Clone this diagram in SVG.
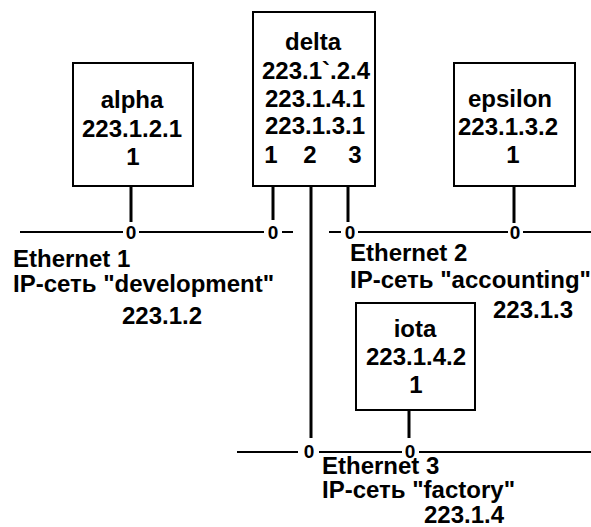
<svg xmlns="http://www.w3.org/2000/svg" width="591" height="527" viewBox="0 0 591 527">
<style>
  .box{fill:#fff;stroke:#000;stroke-width:2}
  .t{font-family:"Liberation Sans",Arial,sans-serif;font-weight:bold;font-size:24px;fill:#000}
  .c{text-anchor:middle}
  .z{font-family:"Liberation Sans",Arial,sans-serif;font-weight:bold;font-size:19px;fill:#000;text-anchor:middle}
  .stub{stroke:#000;stroke-width:3;fill:none}
  .net{stroke:#000;stroke-width:2;fill:none}
</style>
<rect width="591" height="527" fill="#fff"/>
<g id="connectors">
  <line class="stub" x1="131" y1="186" x2="131" y2="222"/>
  <line class="stub" x1="273" y1="186" x2="273" y2="220"/>
  <line class="stub" x1="311" y1="186" x2="311" y2="438"/>
  <line class="stub" x1="348" y1="186" x2="348" y2="222"/>
  <line class="stub" x1="514" y1="186" x2="514" y2="223"/>
  <line class="stub" x1="409" y1="410" x2="409" y2="438"/>
</g>
<g id="ethernet1">
  <path class="net" d="M20 232H123M139 232H264M282 232H293"/>
  <text class="z" x="131" y="239">0</text>
  <text class="z" x="273" y="239">0</text>
  <text class="t" x="13" y="267">Ethernet 1</text>
  <text class="t" x="13" y="292">IP-сеть "development"</text>
  <text class="t" x="122" y="324">223.1.2</text>
</g>
<g id="ethernet2">
  <path class="net" d="M329 232H341M358 232H508M523 232H591"/>
  <text class="z" x="350" y="239">0</text>
  <text class="z" x="515" y="239">0</text>
  <text class="t" x="350" y="261">Ethernet 2</text>
  <text class="t" x="350" y="288">IP-сеть "accounting"</text>
  <text class="t" x="493" y="318">223.1.3</text>
</g>
<g id="ethernet3">
  <path class="net" d="M237 452H298M319 452H402M419 452H591"/>
  <text class="z" x="309" y="458">0</text>
  <text class="z" x="410" y="458">0</text>
  <text class="t" x="322" y="474">Ethernet 3</text>
  <text class="t" x="322" y="498">IP-сеть "factory"</text>
  <text class="t" x="424" y="523">223.1.4</text>
</g>
<g id="alpha">
  <rect class="box" x="73" y="63" width="120" height="123"/>
  <text class="t c" x="132" y="108">alpha</text>
  <text class="t c" x="132" y="137">223.1.2.1</text>
  <text class="t c" x="133" y="165">1</text>
</g>
<g id="delta">
  <rect class="box" x="253" y="12" width="122" height="174"/>
  <text class="t c" x="313" y="50">delta</text>
  <text class="t c" x="316" y="79">223.1`.2.4</text>
  <text class="t c" x="315" y="107">223.1.4.1</text>
  <text class="t c" x="315" y="134">223.1.3.1</text>
  <text class="t c" x="271" y="163">1</text>
  <text class="t c" x="310" y="163">2</text>
  <text class="t c" x="355" y="163">3</text>
</g>
<g id="epsilon">
  <rect class="box" x="454" y="63" width="121" height="123"/>
  <text class="t c" x="510" y="107">epsilon</text>
  <text class="t c" x="508" y="135">223.1.3.2</text>
  <text class="t c" x="513" y="163">1</text>
</g>
<g id="iota">
  <rect class="box" x="356" y="303" width="119" height="107"/>
  <text class="t c" x="415" y="337">iota</text>
  <text class="t c" x="416" y="365">223.1.4.2</text>
  <text class="t c" x="416" y="393">1</text>
</g>
</svg>
